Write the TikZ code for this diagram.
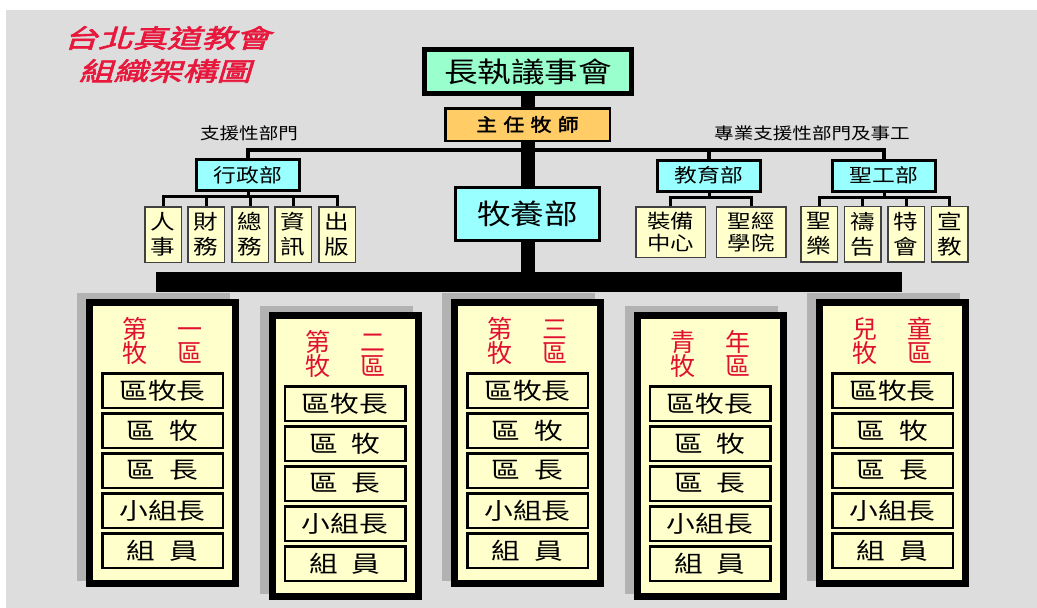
\documentclass[tikz,border=0pt]{standalone}
\usepackage{fontspec}
\setmainfont[FakeStretch=1.2]{Noto Sans CJK TC}
\newfontfamily\hdrfont{Noto Sans CJK TC}
\newfontfamily\titlefont[FakeSlant=0.3,FakeBold=2.5,FakeStretch=1.35]{Noto Sans CJK TC}
\newfontfamily\pastorfont[FakeBold=2.5,FakeStretch=1.15]{Noto Sans CJK TC}
\newfontfamily\itemfont[FakeStretch=1.25]{Noto Sans CJK TC}
\newcommand{\setfs}[2]{\fontsize{#1}{#2}\selectfont}
\newcommand{\gp}{\hspace{14pt}}
\definecolor{bggray}{HTML}{DDDDDD}
\definecolor{shadowgray}{HTML}{B2B2B2}
\definecolor{councilgreen}{HTML}{99FFCC}
\definecolor{pastororange}{HTML}{FFCC66}
\definecolor{deptcyan}{HTML}{99FFFF}
\definecolor{unityellow}{HTML}{FFFFCC}
\definecolor{titlered}{HTML}{E8173C}
\definecolor{hdrred}{HTML}{E01030}
\pgfdeclarelayer{back}
\pgfdeclarelayer{lines}
\pgfsetlayers{back,lines,main}
\begin{document}
\begin{tikzpicture}[x=1pt,y=-1pt,
  every node/.style={inner sep=0pt, outer sep=0pt},
  council/.style={draw, line width=5pt, fill=councilgreen, minimum width=207pt, minimum height=44pt, font=\setfs{28}{30}},
  pastor/.style={draw, line width=2.5pt, fill=pastororange, minimum width=164.5pt, minimum height=32.5pt, font=\pastorfont\setfs{18}{20}},
  dept/.style={draw, line width=3pt, fill=deptcyan, minimum width=103pt, minimum height=31pt, font=\setfs{19}{21}},
  shepherd/.style={draw, line width=3pt, fill=deptcyan, minimum width=144pt, minimum height=53pt, font=\setfs{28}{30}},
  unit/.style={draw=black!75, line width=1.5pt, fill=unityellow, minimum width=36.5pt, minimum height=55.5pt, align=center, font=\setfs{20.5}{25}},
  wideunit/.style={unit, minimum width=69.5pt, minimum height=50.5pt, font=\setfs{19.5}{22}},
  grouplabel/.style={font=\setfs{16.3}{18}},
  titletext/.style={text=titlered, font=\titlefont\setfs{25.5}{28}},
  barstyle/.style={fill=black, minimum width=746pt, minimum height=20pt},
  shadowbox/.style={fill=shadowgray, minimum width=153pt, minimum height=288pt},
  region/.style={draw, line width=7pt, fill=unityellow, minimum width=146pt, minimum height=281pt},
  regionhdr/.style={text=hdrred, align=center, font=\hdrfont\setfs{25}{24.5}},
  item/.style={draw, line width=2.5pt, fill=unityellow, minimum width=120.5pt, minimum height=34.5pt, font=\itemfont\setfs{23}{24}},
  trunk/.style={line width=14pt},
  mainline/.style={line width=4.5pt},
  subline/.style={line width=3pt}
]
\useasboundingbox (0,0) rectangle (1037,608);
\begin{pgfonlayer}{back}
  \fill[bggray] (6,10) rectangle (1037,608);
\end{pgfonlayer}

% title
\node[titletext] (t1) at (167,38) {台北真道教會};
\node[titletext] (t2) at (165,71) {組織架構圖};

% top
\node[council] (council) at (528,71.5) {長執議事會};
\node[pastor] (pastor) at (527.5,124.5) {主\hspace{6.5pt}任\hspace{6.5pt}牧\hspace{6.5pt}師};
\node[shepherd] (shep) at (527.5,214) {牧養部};
\node[barstyle] (bar) at (529,282) {};

% labels
\node[grouplabel] (lblL) at (249,133) {支援性部門};
\node[grouplabel] (lblR) at (812,133) {專業支援性部門及事工};

% departments
\node[dept] (admin) at (248,175) {行政部};
\node[dept] (edu) at (709,175.5) {教育部};
\node[dept] (holy) at (884,175.5) {聖工部};

% admin units
\node[unit] (a1) at (163,234.5) {人\\事};
\node[unit] (a2) at (206,234.5) {財\\務};
\node[unit] (a3) at (250,234.5) {總\\務};
\node[unit] (a4) at (293,234.5) {資\\訊};
\node[unit] (a5) at (337,234.5) {出\\版};

% education units
\node[wideunit] (e1) at (670.5,232) {裝備\\中心};
\node[wideunit] (e2) at (751,232) {聖經\\學院};

% holy work units
\node[unit] (h1) at (819,234) {聖\\樂};
\node[unit] (h2) at (862.5,234) {禱\\告};
\node[unit] (h3) at (906,234) {特\\會};
\node[unit] (h4) at (949.5,234) {宣\\教};

% connectors
\begin{pgfonlayer}{lines}
  \draw[trunk] (council.south) -- (council.south |- bar.north);
  \coordinate (jl) at (248,150);
  \coordinate (jr) at (884,150);
  \draw[mainline] (admin.north) -- (jl) -- (jr) -- (holy.north);
  \draw[mainline] (edu.north) -- (edu.north |- jl);
  \coordinate (as) at (248,196);
  \draw[subline] (admin.south) -- (as);
  \draw[subline] (a1.north) -- (a1.north |- as) -- (a5.north |- as) -- (a5.north);
  \foreach \n in {a2,a3,a4} \draw[subline] (\n.north) -- (\n.north |- as);
  \coordinate (es) at (709,197);
  \draw[subline] (edu.south) -- (es);
  \draw[subline] (e1.north) -- (e1.north |- es) -- (e2.north |- es) -- (e2.north);
  \coordinate (hs) at (884,197);
  \draw[subline] (holy.south) -- (hs);
  \draw[subline] (h1.north) -- (h1.north |- hs) -- (h4.north |- hs) -- (h4.north);
  \foreach \n in {h2,h3} \draw[subline] (\n.north) -- (\n.north |- hs);
\end{pgfonlayer}

% regions
\foreach \i/\cx/\top/\hA/\hB in {1/162.5/299/第/一, 2/345/312/第/二, 3/527.5/299/第/三, 4/710/312/青/年, 5/892.5/299/兒/童} {
  \node[shadowbox] (sh\i) at (\cx-9,\top+138) {};
  \node[region] (r\i) at (\cx,\top+144) {};
  \node[regionhdr] (hd\i) at (\cx,\top+42) {\hA\hspace{30pt}\hB\\牧\hspace{30pt}區};
  \foreach \j/\t in {0/區牧長, 1/區\gp 牧, 2/區\gp 長, 3/小組長, 4/組\gp 員} {
    \node[item] (r\i-\j) at (\cx,\top+91.5+40*\j) {\t};
  }
}
\end{tikzpicture}
\end{document}
